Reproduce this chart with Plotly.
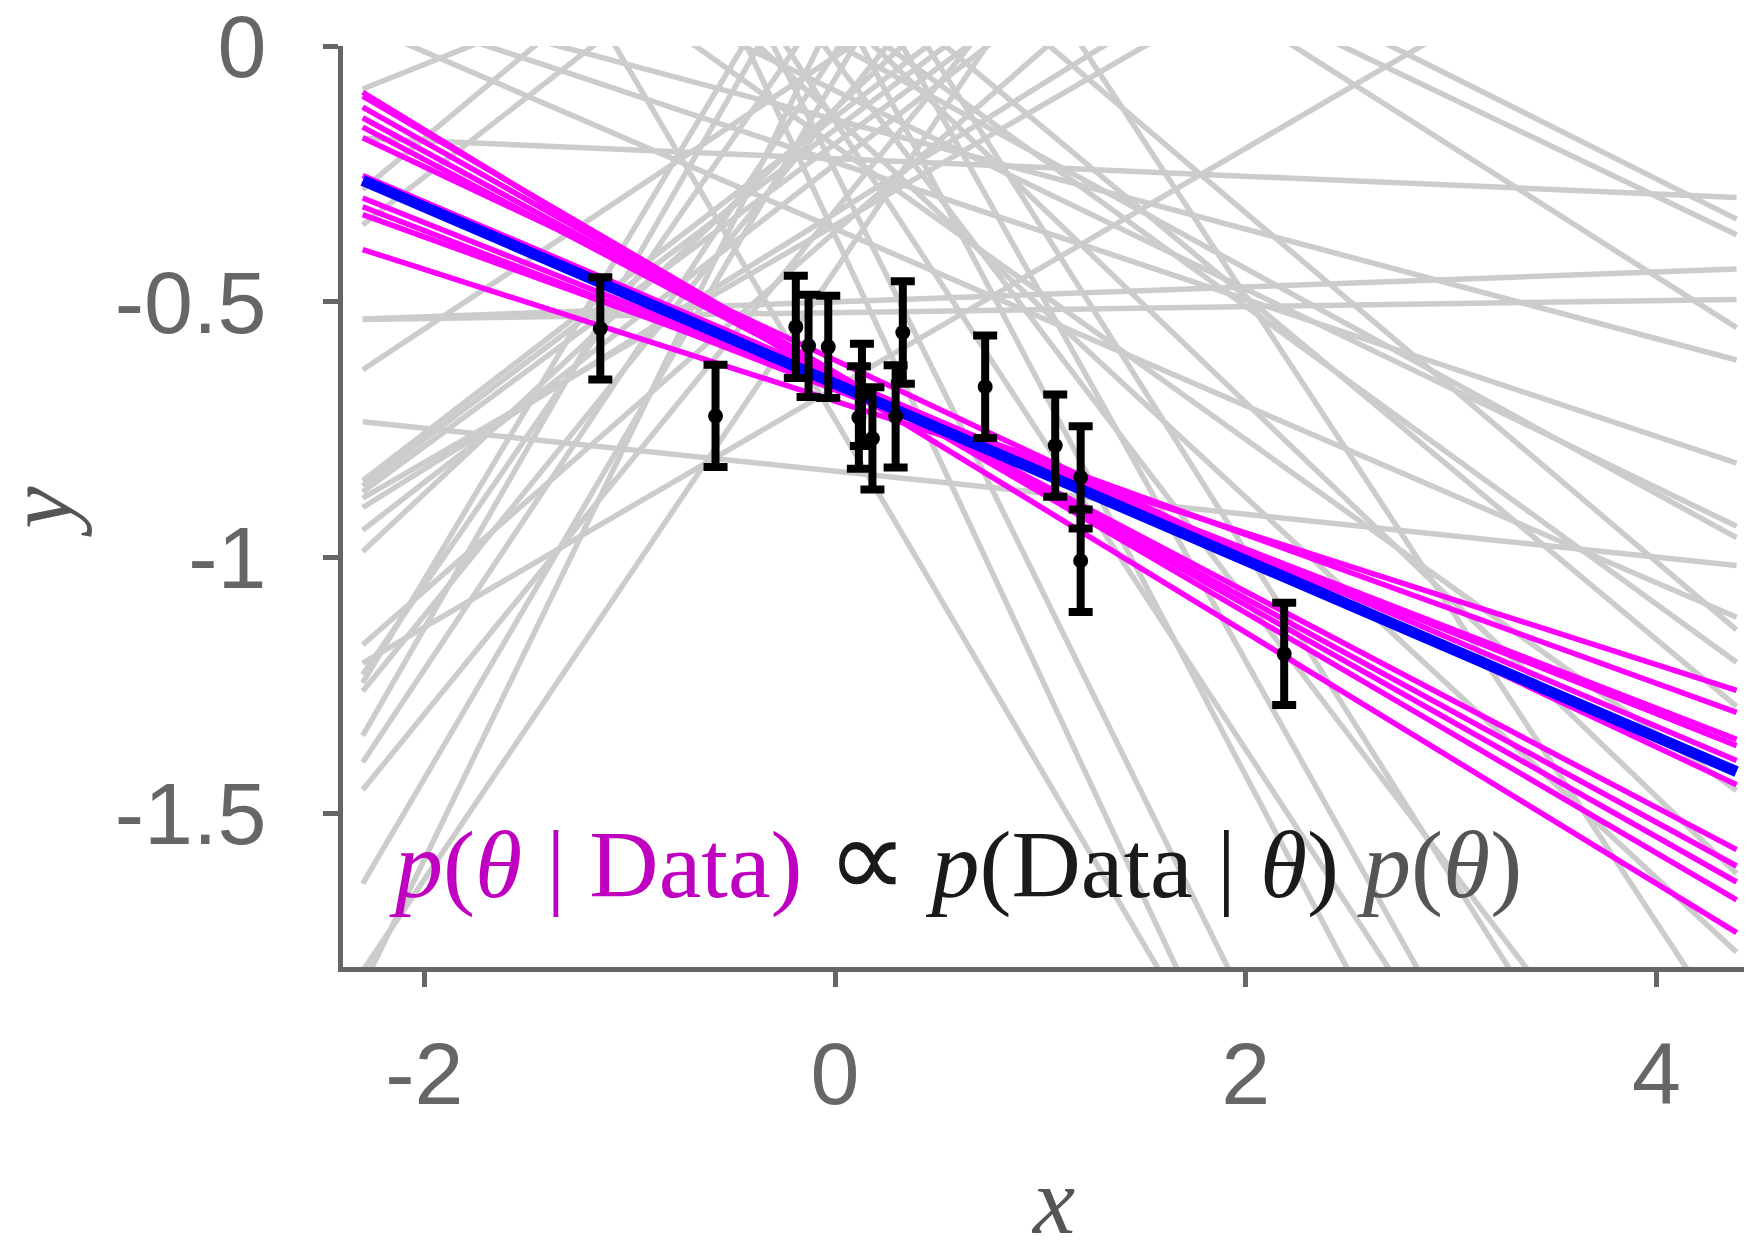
import plotly.graph_objects as go

# ---------------- data ----------------
x_grid = [-2.3, 4.39]

data_x = [-1.143, -0.582, -0.191, -0.129, -0.033, 0.116, 0.131, 0.182,
          0.295, 0.330, 0.731, 1.072, 1.196, 1.196, 2.187]
data_y = [-0.552, -0.723, -0.549, -0.586, -0.588, -0.726, -0.682, -0.767,
          -0.724, -0.560, -0.666, -0.781, -0.843, -1.006, -1.188]
data_err = [0.1, 0.1, 0.1, 0.1, 0.1, 0.1, 0.1, 0.1,
            0.1, 0.1, 0.1, 0.1, 0.1, 0.1, 0.1]

# prior samples (intercept, slope)
prior_intercept = [-0.220, 0.544, 0.474, -0.500, -0.521, 0.569, -0.144, -0.227,
                   -0.831, 0.356, -0.357, -0.087, 0.005, 0.073, 0.180, -0.195,
                   0.073, -0.138, -0.730, -0.370, -0.244, 0.100, -0.147, 0.236,
                   0.285, -0.028, 0.735, 0.284, -0.021, -0.139, -0.163, -0.191,
                   -0.350, -0.327, -0.231, -0.123, -0.363, -0.668, 0.108, 0.301,
                   -0.125, 0.260, -0.013, -0.322, -0.064, -0.439, 0.066, 0.490,
                   0.368]
prior_slope = [-0.0173, -0.201, -0.192, 0.0146, 0.0058, -0.255, -0.107, -0.134,
               -0.042, -0.341, -0.173, -0.194, -0.220, -0.291, -0.335, -0.287,
               -0.385, -0.372, -0.682, -0.861, -0.814, -0.763, -0.614, -0.719,
               -0.636, -0.527, -0.612, 0.160, 0.266, 0.309, 0.303, 0.296,
               0.232, 0.250, 0.311, 0.376, 0.351, 0.234, 0.581, 0.672,
               0.494, 0.699, 0.603, 0.492, 0.684, 0.595, 0.828, 0.335,
               0.312]

# posterior samples (intercept, slope)
post_intercept = [-0.655, -0.638, -0.640, -0.643, -0.644, -0.614, -0.646,
                  -0.665, -0.672, -0.664, -0.694]
post_slope = [-0.2455, -0.2348, -0.2264, -0.2186, -0.2111, -0.1890, -0.1709,
              -0.1600, -0.1556, -0.1454, -0.1288]

# posterior mean
mean_intercept = -0.660
mean_slope = -0.1727

x_ticks = [-2, 0, 2, 4]
x_ticklabels = ["-2", "0", "2", "4"]
y_ticks = [0, -0.5, -1, -1.5]
y_ticklabels = ["0", "-0.5", "-1", "-1.5"]

# ---------------- figure ----------------
def segments(intercepts, slopes):
    xs, ys = [], []
    for a, b in zip(intercepts, slopes):
        for xv in x_grid:
            xs.append(xv)
            ys.append(a + b * xv)
        xs.append(None)
        ys.append(None)
    return xs, ys

fig = go.Figure()

gx, gy = segments(prior_intercept, prior_slope)
fig.add_trace(go.Scatter(x=gx, y=gy, mode="lines",
                         line=dict(color="#cccccc", width=5.5),
                         hoverinfo="skip", showlegend=False))

mx, my = segments(post_intercept, post_slope)
fig.add_trace(go.Scatter(x=mx, y=my, mode="lines",
                         line=dict(color="#ff00ff", width=5.5),
                         hoverinfo="skip", showlegend=False))

bx, by = segments([mean_intercept], [mean_slope])
fig.add_trace(go.Scatter(x=bx, y=by, mode="lines",
                         line=dict(color="#0000ff", width=11),
                         hoverinfo="skip", showlegend=False))

fig.add_trace(go.Scatter(x=data_x, y=data_y, mode="markers",
                         marker=dict(color="black", size=15),
                         error_y=dict(type="data", array=data_err, visible=True,
                                      color="black", thickness=8, width=12),
                         showlegend=False))

axis_common = dict(
    showgrid=False, zeroline=False, showline=True, linecolor="#666666",
    linewidth=5, ticks="outside", ticklen=15, tickwidth=5, tickcolor="#666666",
    ticklabeloverflow="allow",
    tickfont=dict(family="Liberation Sans", size=88, color="#666666"),
)

fig.update_xaxes(range=[-2.396, 4.504], tickvals=x_ticks, ticktext=x_ticklabels,
                 ticklabelstandoff=11, **axis_common)
fig.update_yaxes(range=[-1.8, 0], tickvals=y_ticks, ticktext=y_ticklabels,
                 ticklabelstandoff=39, **axis_common)

title_font = dict(family="Liberation Serif", size=95, color="#555555")
fig.add_annotation(xref="paper", yref="paper", x=0.501, y=-0.2545,
                   xanchor="center", yanchor="middle", showarrow=False,
                   text="<i>x</i>", font=title_font)
fig.add_annotation(xref="paper", yref="paper", x=-0.214, y=0.495,
                   xanchor="center", yanchor="middle", showarrow=False,
                   textangle=-90, text="<i>y</i>", font=title_font)

fig.add_annotation(
    xref="paper", yref="paper", x=0.031, y=0.118, xanchor="left", yanchor="middle",
    showarrow=False,
    text=('<span style="color:#c000c0"><i>p</i>(<i>θ</i> | Data)</span> '
          '<span style="color:#1a1a1a"><span style="font-size:113px">∝</span> '
          '<i>p</i>(Data | <i>θ</i>)</span> '
          '<span style="color:#555555"><i>p</i>(<i>θ</i>)</span>'),
    font=dict(family="Liberation Serif", size=96, color="#1a1a1a"),
)

fig.update_layout(
    width=1752, height=1244,
    margin=dict(l=335, r=0, t=38, b=285, autoexpand=False),
    paper_bgcolor="white", plot_bgcolor="white",
    showlegend=False,
)

fig.write_html("out.html")
